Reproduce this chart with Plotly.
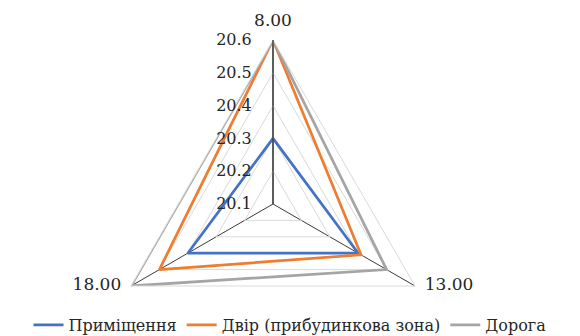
import plotly.graph_objects as go

# Times of day (angular categories)
categories = ["8.00", "13.00", "18.00"]

# Measured values per location
room = [20.3, 20.4, 20.4]
yard = [20.6, 20.41, 20.5]
road = [20.6, 20.5, 20.6]

series_names = ["Приміщення", "Двір (прибудинкова зона)", "Дорога"]
series_colors = ["#4472C4", "#ED7D31", "#A5A5A5"]

radial_ticks = [20.1, 20.2, 20.3, 20.4, 20.5, 20.6]
radial_ticktext = ["20.1", "20.2", "20.3", "20.4", "20.5", "20.6"]
radial_max = radial_ticks[-1]

SERIF = "DejaVu Serif, Liberation Serif, serif"
TEXT_COLOR = "#262626"

W, H = 580, 370
TOP, BOTTOM = 40, 2
CX, R = 273, 164

fig = go.Figure()
for name, vals, col in zip(series_names, [room, yard, road], series_colors):
    fig.add_trace(go.Scatterpolar(
        r=vals + vals[:1],
        theta=categories + categories[:1],
        mode="lines",
        name=name,
        line=dict(color=col, width=2.75),
    ))

# Category labels at the outer vertices of the grid
fig.add_trace(go.Scatterpolar(
    r=[radial_max] * len(categories),
    theta=categories,
    mode="markers+text",
    text=categories,
    textposition=["top center", "middle right", "middle left"],
    textfont=dict(family=SERIF, size=17, color=TEXT_COLOR),
    marker=dict(size=14, color="rgba(0,0,0,0)"),
    showlegend=False,
    hoverinfo="skip",
    cliponaxis=False,
))

fig.update_layout(
    width=W,
    height=H,
    margin=dict(l=0, r=0, t=TOP, b=BOTTOM),
    paper_bgcolor="white",
    plot_bgcolor="white",
    font=dict(family=SERIF, color=TEXT_COLOR),
    showlegend=True,
    legend=dict(
        orientation="h",
        x=0.5, xanchor="center",
        y=(H - BOTTOM - 325) / (H - TOP - BOTTOM), yanchor="middle",
        font=dict(family=SERIF, size=16, color=TEXT_COLOR),
        itemwidth=30,
        tracegroupgap=0,
        bgcolor="rgba(0,0,0,0)",
    ),
    polar=dict(
        domain=dict(x=[(CX - R) / W, (CX + R) / W], y=[0, 1]),
        gridshape="linear",
        bgcolor="rgba(0,0,0,0)",
        radialaxis=dict(
            range=[20.1, radial_max],
            tickvals=radial_ticks,
            ticktext=radial_ticktext,
            angle=90,
            tickangle=90,
            side="counterclockwise",
            showline=True,
            linecolor="#3a3a3a",
            linewidth=1.3,
            gridcolor="#d9d9d9",
            gridwidth=1,
            ticks="outside",
            ticklen=15,
            tickcolor="rgba(0,0,0,0)",
            tickfont=dict(family=SERIF, size=16, color=TEXT_COLOR),
        ),
        angularaxis=dict(
            type="category",
            categoryarray=categories,
            direction="clockwise",
            rotation=90,
            showline=True,
            linecolor="#d9d9d9",
            linewidth=1,
            gridcolor="#3a3a3a",
            gridwidth=1.3,
            ticks="",
            showticklabels=False,
        ),
    ),
)

fig.write_html(
    "out.html",
    post_script="document.documentElement.style.overflow='hidden';document.body.style.overflow='hidden';",
)
